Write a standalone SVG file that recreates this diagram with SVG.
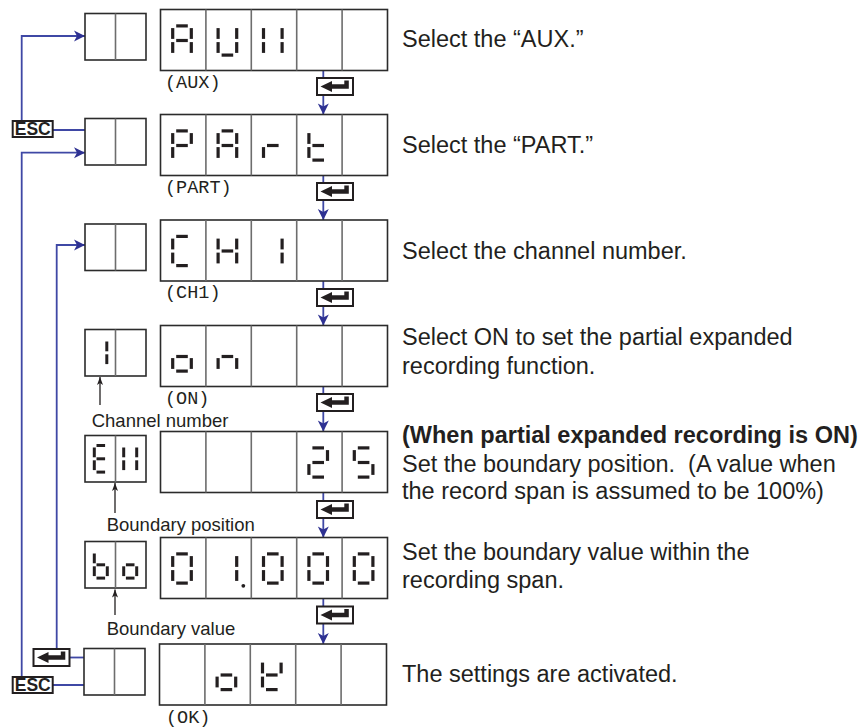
<svg xmlns="http://www.w3.org/2000/svg" width="867" height="727" viewBox="0 0 867 727">
<style>
.frame{fill:#fff;stroke:#2b2b2b;stroke-width:1.6}
.div{stroke:#6d6d6d;stroke-width:1.6;fill:none}
.seg{stroke:#231f20;stroke-width:3.2;fill:none}
.sseg{stroke:#231f20;stroke-width:3;fill:none}
.desc{font-family:"Liberation Sans",Arial,sans-serif;font-size:23.5px;fill:#231f20}
.bold{font-weight:bold}
.note{font-family:"Liberation Sans",Arial,sans-serif;font-size:18.5px;fill:#231f20}
.code{font-family:"Liberation Mono","Courier New",monospace;font-size:18.5px;fill:#231f20}
.flow{stroke:#3f48a5;stroke-width:1.8;fill:none}
.ptr{stroke:#231f20;stroke-width:1.3;fill:none}
.key{fill:#fff;stroke:#231f20;stroke-width:2}
.keytxt{font-family:"Liberation Sans",Arial,sans-serif;font-weight:bold;font-size:17.5px;fill:#231f20}
</style>
<defs>
<marker id="bhead" viewBox="-12 -6 13 12" refX="0" refY="0" markerWidth="13" markerHeight="12" markerUnits="userSpaceOnUse" orient="auto">
<path d="M0,0 L-11,-5.5 L-8,0 L-11,5.5 Z" fill="#2e3192"/>
</marker>
<marker id="khead" viewBox="-9 -4 10 8" refX="0" refY="0" markerWidth="10" markerHeight="8" markerUnits="userSpaceOnUse" orient="auto">
<path d="M0,0 L-8,-3 L-6,0 L-8,3 Z" fill="#231f20"/>
</marker>
<path id="Ba" class="seg" d="M-5.8,-14.6H5.8"/>
<path id="Bb" class="seg" d="M9.3,-12.4V-1.6"/>
<path id="Bc" class="seg" d="M9.3,1.6V12.4"/>
<path id="Bd" class="seg" d="M-5.8,14.6H5.8"/>
<path id="Be" class="seg" d="M-9.3,1.6V12.4"/>
<path id="Bf" class="seg" d="M-9.3,-12.4V-1.6"/>
<path id="Bg" class="seg" d="M-5.8,0H5.8"/>
<path id="Sa" class="sseg" d="M-4.3,-13.3H4.3"/>
<path id="Sb" class="sseg" d="M6.5,-11.3V-1.5"/>
<path id="Sc" class="sseg" d="M6.5,1.5V11.3"/>
<path id="Sd" class="sseg" d="M-4.3,13.3H4.3"/>
<path id="Se" class="sseg" d="M-6.5,1.5V11.3"/>
<path id="Sf" class="sseg" d="M-6.5,-11.3V-1.5"/>
<path id="Sg" class="sseg" d="M-4.3,0H4.3"/>
<g id="dA"><use href="#Ba"/><use href="#Bb"/><use href="#Bc"/><use href="#Be"/><use href="#Bf"/><use href="#Bg"/></g>
<g id="dU"><use href="#Bb"/><use href="#Bc"/><use href="#Bd"/><use href="#Be"/><use href="#Bf"/></g>
<g id="dX"><use href="#Bb"/><use href="#Bc"/><use href="#Be"/><use href="#Bf"/></g>
<g id="dP"><use href="#Ba"/><use href="#Bb"/><use href="#Be"/><use href="#Bf"/><use href="#Bg"/></g>
<g id="dr"><use href="#Be"/><use href="#Bg"/></g>
<g id="dt"><use href="#Bd"/><use href="#Be"/><use href="#Bf"/><use href="#Bg"/></g>
<g id="dC"><use href="#Ba"/><use href="#Bd"/><use href="#Be"/><use href="#Bf"/></g>
<g id="dH"><use href="#Bb"/><use href="#Bc"/><use href="#Be"/><use href="#Bf"/><use href="#Bg"/></g>
<g id="d1"><use href="#Bb"/><use href="#Bc"/></g>
<g id="do"><use href="#Bc"/><use href="#Bd"/><use href="#Be"/><use href="#Bg"/></g>
<g id="dn"><use href="#Bc"/><use href="#Be"/><use href="#Bg"/></g>
<g id="d2"><use href="#Ba"/><use href="#Bb"/><use href="#Bd"/><use href="#Be"/><use href="#Bg"/></g>
<g id="d5"><use href="#Ba"/><use href="#Bc"/><use href="#Bd"/><use href="#Bf"/><use href="#Bg"/></g>
<g id="d0"><use href="#Ba"/><use href="#Bb"/><use href="#Bc"/><use href="#Bd"/><use href="#Be"/><use href="#Bf"/></g>
<g id="dK"><use href="#Bb"/><use href="#Bd"/><use href="#Be"/><use href="#Bf"/><use href="#Bg"/></g>
<g id="s1"><use href="#Sb"/><use href="#Sc"/></g>
<g id="sE"><use href="#Sa"/><use href="#Sd"/><use href="#Se"/><use href="#Sf"/><use href="#Sg"/></g>
<g id="sX"><use href="#Sb"/><use href="#Sc"/><use href="#Se"/><use href="#Sf"/></g>
<g id="sb"><use href="#Sc"/><use href="#Sd"/><use href="#Se"/><use href="#Sf"/><use href="#Sg"/></g>
<g id="so"><use href="#Sc"/><use href="#Sd"/><use href="#Se"/><use href="#Sg"/></g>
<g id="big"><rect x="0" y="0" width="227" height="61" class="frame"/><path class="div" d="M45.4,0V61M90.8,0V61M136.2,0V61M181.6,0V61"/></g>
<g id="small"><rect x="0" y="0" width="61" height="46.5" class="frame"/><path class="div" d="M30.5,0V46.5"/></g>
<g id="enter"><rect x="0" y="0" width="36" height="17" class="key"/><path d="M3.5,8.5 L15,3 V6.3 H27.3 V2.6 H31.8 V10.8 H15 V14 Z" fill="#231f20"/></g>
</defs>

<g id="connectors">
<path class="flow" d="M323.3,70.5V114.5" marker-end="url(#bhead)"/>
<path class="flow" d="M323.3,175.5V220" marker-end="url(#bhead)"/>
<path class="flow" d="M323.3,281V325.5" marker-end="url(#bhead)"/>
<path class="flow" d="M323.3,386.5V431.5" marker-end="url(#bhead)"/>
<path class="flow" d="M323.3,492.5V537.5" marker-end="url(#bhead)"/>
<path class="flow" d="M323.3,598.5V644" marker-end="url(#bhead)"/>
<path class="flow" d="M21.7,121V36H85" marker-end="url(#bhead)"/>
<path class="flow" d="M52.7,130H85"/>
<path class="flow" d="M21.7,677V152.7H85" marker-end="url(#bhead)"/>
<path class="flow" d="M56.7,648.5V245H85" marker-end="url(#bhead)"/>
<path class="flow" d="M69.5,657.5H85"/>
<path class="flow" d="M52.7,685H85"/>
<path class="ptr" d="M100,405V377" marker-end="url(#khead)"/>
<path class="ptr" d="M115,513V483" marker-end="url(#khead)"/>
<path class="ptr" d="M115,615V589.5" marker-end="url(#khead)"/>
</g>

<g id="key-enter-1"><use href="#enter" x="317" y="78"/></g>
<g id="key-enter-2"><use href="#enter" x="317" y="183"/></g>
<g id="key-enter-3"><use href="#enter" x="317" y="289"/></g>
<g id="key-enter-4"><use href="#enter" x="317" y="394"/></g>
<g id="key-enter-5"><use href="#enter" x="317" y="501"/></g>
<g id="key-enter-6"><use href="#enter" x="317" y="606.5"/></g>
<g id="key-enter-back"><use href="#enter" x="33.5" y="649"/></g>
<g id="key-esc-1"><rect x="12.7" y="121" width="40" height="16" class="key" stroke-width="1.6"/><text x="32.7" y="135" class="keytxt" text-anchor="middle">ESC</text></g>
<g id="key-esc-2"><rect x="12.7" y="677" width="40" height="16" class="key" stroke-width="1.6"/><text x="32.7" y="691" class="keytxt" text-anchor="middle">ESC</text></g>

<g id="step-aux">
<use href="#small" x="85" y="13.5"/>
<use href="#big" x="160.5" y="9.5"/>
<use href="#dA" x="182" y="40.5"/><use href="#dU" x="227.4" y="40.5"/><use href="#dX" x="272.8" y="40.5"/>
<text x="165" y="87.8" class="code">(AUX)</text>
<text x="402" y="46.7" class="desc">Select the “AUX.”</text>
</g>
<g id="step-part">
<use href="#small" x="85" y="118.5"/>
<use href="#big" x="160.5" y="114.5"/>
<use href="#dP" x="182" y="145.5"/><use href="#dA" x="227.4" y="145.5"/><use href="#dr" x="272.8" y="145.5"/><use href="#dt" x="318.2" y="145.5"/>
<text x="165" y="192.8" class="code">(PART)</text>
<text x="402" y="153.3" class="desc">Select the “PART.”</text>
</g>
<g id="step-channel">
<use href="#small" x="85" y="224"/>
<use href="#big" x="160.5" y="220"/>
<use href="#dC" x="182" y="251"/><use href="#dH" x="227.4" y="251"/><use href="#d1" x="272.8" y="251"/>
<text x="165" y="298.3" class="code">(CH1)</text>
<text x="402" y="259.3" class="desc">Select the channel number.</text>
</g>
<g id="step-on">
<use href="#small" x="85" y="329.5"/>
<use href="#s1" x="100.3" y="352.8"/>
<use href="#big" x="160.5" y="325.5"/>
<use href="#do" x="182" y="356.5"/><use href="#dn" x="227.4" y="356.5"/>
<text x="165" y="403.8" class="code">(ON)</text>
<text x="91.7" y="426.7" class="note">Channel number</text>
<text x="402" y="345" class="desc">Select ON to set the partial expanded</text>
<text x="402" y="374" class="desc">recording function.</text>
</g>
<g id="step-position">
<use href="#small" x="85" y="435.5"/>
<use href="#sE" x="100.8" y="458.8"/><use href="#sX" x="130.2" y="458.8"/>
<use href="#big" x="160.5" y="431.5"/>
<use href="#d2" x="318.2" y="462.5"/><use href="#d5" x="363.6" y="462.5"/>
<text x="106.7" y="530.7" class="note">Boundary position</text>
<text x="402" y="442.7" class="desc bold">(When partial expanded recording is ON)</text>
<text x="402" y="471.7" class="desc" xml:space="preserve">Set the boundary position.  (A value when</text>
<text x="402" y="498.8" class="desc">the record span is assumed to be 100%)</text>
</g>
<g id="step-value">
<use href="#small" x="85" y="541.5"/>
<use href="#sb" x="100.8" y="564.8"/><use href="#so" x="130.2" y="564.8"/>
<use href="#big" x="160.5" y="537.5"/>
<use href="#d0" x="182" y="568.5"/><use href="#d1" x="227.4" y="568.5"/><circle cx="243.3" cy="585.8" r="1.9" fill="#231f20"/>
<use href="#d0" x="272.8" y="568.5"/><use href="#d0" x="318.2" y="568.5"/><use href="#d0" x="363.6" y="568.5"/>
<text x="106.7" y="635" class="note">Boundary value</text>
<text x="402" y="560" class="desc">Set the boundary value within the</text>
<text x="402" y="588.3" class="desc">recording span.</text>
</g>
<g id="step-ok">
<use href="#small" x="84" y="648.5"/>
<use href="#big" x="159.5" y="644"/>
<use href="#do" x="226.4" y="675"/><use href="#dK" x="271.8" y="675"/>
<text x="166" y="722.5" class="code">(OK)</text>
<text x="402" y="681.7" class="desc">The settings are activated.</text>
</g>
</svg>
